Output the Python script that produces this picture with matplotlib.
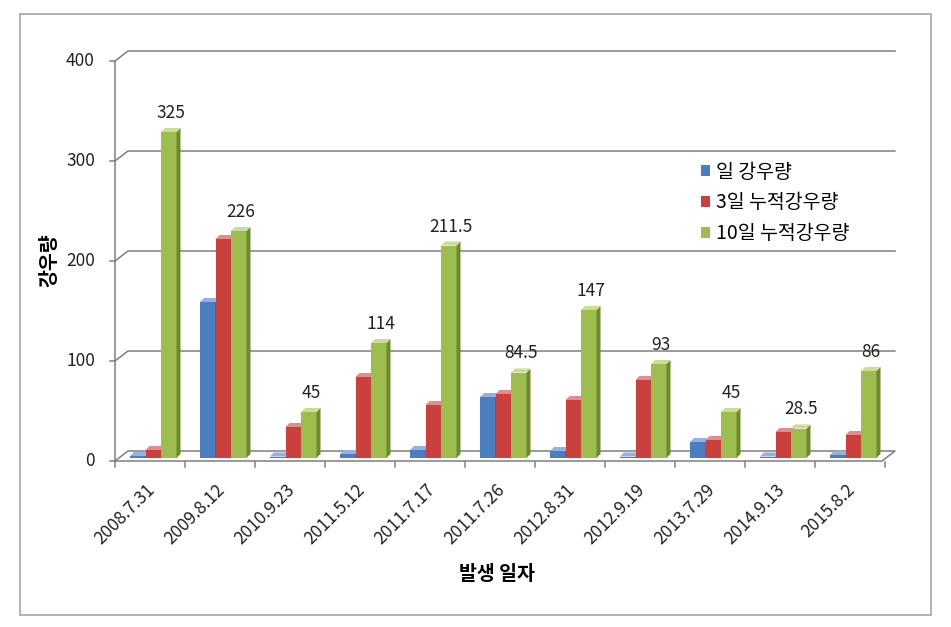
import matplotlib
matplotlib.use("Agg")
import matplotlib.pyplot as plt
from matplotlib.patches import Polygon, Patch, Rectangle

plt.rcParams['font.family'] = ['Noto Sans CJK KR', 'DejaVu Sans']

# 데이터
dates = ['2008.7.31', '2009.8.12', '2010.9.23', '2011.5.12', '2011.7.17', '2011.7.26',
         '2012.8.31', '2012.9.19', '2013.7.29', '2014.9.13', '2015.8.2']
daily = [1, 155, 0.5, 3, 7, 60, 6, 0.5, 15, 0.5, 2]
acc3 = [7, 218, 30, 80, 52, 63, 57, 77, 17, 25, 22]
acc10 = [325, 226, 45, 114, 211.5, 84.5, 147, 93, 45, 28.5, 86]
labels10 = ['325', '226', '45', '114', '211.5', '84.5', '147', '93', '45', '28.5', '86']
series_names = ['일 강우량', '3일 누적강우량', '10일 누적강우량']

front = ['#4A7EC0', '#C9403C', '#9DBE4E']
side = ['#2E5A94', '#8E2A27', '#6E8A2E']
top = ['#8FB3E2', '#E38C89', '#C9DE93']

W, H = 951, 627
fig = plt.figure(figsize=(W / 100, H / 100), dpi=100)
ax_l, ax_b, ax_w, ax_h = 115, 461, 770, 400
ax = fig.add_axes([ax_l / W, (H - ax_b) / H, ax_w / W, ax_h / H])
n = len(dates)
ax.set_xlim(-0.5, n - 0.5)
ax.set_ylim(0, 400)
ax.axis('off')

px = n / ax_w   # x 데이터 단위 / 픽셀
py = 400 / ax_h  # y 데이터 단위 / 픽셀

# 바깥 테두리
fig.patches.append(Rectangle((20 / W, (H - 615) / H), 911 / W, 601 / H,
                             transform=fig.transFigure, fill=False,
                             edgecolor='#A6A6A6', lw=1.2))

# 뒷벽 격자선 + 왼쪽 벽 연결선
wx, wy = 13 * px, 10 * py
gc = '#7F7F7F'
x0 = -0.5
x_end = -0.5 + 780 * px
for v in [100, 200, 300, 400]:
    ax.plot([x0, x0 + wx, x_end], [v, v + wy, v + wy], color=gc, lw=1.1, clip_on=False)
# 바닥
ax.plot([x0, x0 + wx, x_end, x_end - wx, x0], [0, wy, wy, 0, 0], color=gc, lw=1.1, clip_on=False)
# y축 선과 눈금
ax.plot([x0, x0], [0, 400], color=gc, lw=1.1, clip_on=False)
for v in range(0, 401, 100):
    ax.plot([x0 - 5 * px, x0], [v, v], color=gc, lw=1.1, clip_on=False)
    ax.text(x0 - 20 * px, v, str(v), ha='right', va='center', fontsize=12.5, color='#222222')
# x축 눈금
for k in range(n + 1):
    ax.plot([x0 + k, x0 + k], [-1, -6], color=gc, lw=1.1, clip_on=False)

# 막대 (유사 3D)
bw = 15.5 * px
dx, dy = 4 * px, 4 * py
for i in range(n):
    for s, vals in enumerate([daily, acc3, acc10]):
        v = vals[i]
        l = i - 20 * px + s * bw
        b = 3 * py
        t = v + 4 * py
        ax.add_patch(Polygon([(l, b), (l + bw, b), (l + bw, t), (l, t)], closed=True,
                             facecolor=front[s], edgecolor='none', zorder=3 + s))
        ax.add_patch(Polygon([(l + bw, b), (l + bw + dx, b + dy), (l + bw + dx, t + dy), (l + bw, t)],
                             closed=True, facecolor=side[s], edgecolor='none', zorder=3 + s))
        ax.add_patch(Polygon([(l, t), (l + bw, t), (l + bw + dx, t + dy), (l + dx, t + dy)],
                             closed=True, facecolor=top[s], edgecolor='none', zorder=3 + s))
        if s == 2:
            ax.text(l + (bw + dx) / 2, t + 10 * py, labels10[i], ha='center', va='bottom',
                    fontsize=12.5, color='#222222', zorder=10)

# x 눈금 라벨
for i, d in enumerate(dates):
    ax.text(i - 4 * px, -20 * py, d, rotation=45, ha='right', va='top',
            rotation_mode='anchor', fontsize=12.5, color='#222222', clip_on=False)

# 축 제목
fig.text(497 / W, (H - 575) / H, '발생 일자', ha='center', va='center',
         fontsize=14, fontweight='bold')
fig.text(50 / W, (H - 260) / H, '강우량', ha='center', va='center', rotation=90,
         fontsize=14, fontweight='bold')

# 범례
handles = [Patch(facecolor=front[s], edgecolor='none') for s in range(3)]
fig.legend(handles, series_names, loc='upper left',
           bbox_to_anchor=(683 / W, (H - 144) / H), frameon=False, fontsize=14,
           handlelength=0.5, handleheight=0.5, handletextpad=0.3, labelspacing=0.5)

fig.savefig('out.png', dpi=100)
